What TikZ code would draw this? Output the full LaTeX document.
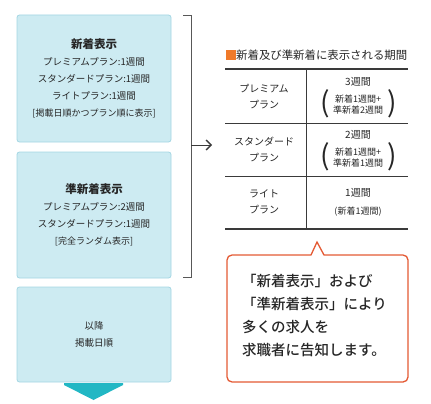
\documentclass[tikz,border=0pt]{standalone}
\usepackage{fontspec}
\setmainfont{Noto Sans CJK JP}
\newfontfamily\jpmed{Noto Sans CJK JP Medium}
\usetikzlibrary{arrows.meta}
\definecolor{boxfill}{HTML}{CDEBF2}
\definecolor{boxline}{HTML}{A3D6E2}
\definecolor{tealarrow}{HTML}{22B7C4}
\definecolor{txt}{HTML}{262626}
\definecolor{rule}{HTML}{3A3A3A}
\definecolor{orangesq}{HTML}{F07A2A}
\definecolor{callout}{HTML}{E45A34}
\begin{document}
\begin{tikzpicture}[x=1pt,y=-1pt,
  bluebox/.style={draw=boxline, fill=boxfill, line width=0.8pt, rounded corners=2.5pt,
    minimum width=154pt, align=center, text=txt, inner sep=0pt,
    font=\fontsize{9.5}{17}\selectfont},
  cell/.style={align=center, text=txt, inner sep=0pt, font=\fontsize{10}{16}\selectfont},
  subcell/.style={align=center, text=txt, inner sep=0pt, font=\fontsize{9}{11}\selectfont},
  paren/.style={text=txt, inner sep=0pt, font=\fontsize{28}{28}\selectfont},
  tablerule/.style={draw=rule, line width=1pt},
  bracket/.style={draw=rule!85, line width=0.8pt},
]
\useasboundingbox (0,0) rectangle (431,404);

% left boxes
\node[bluebox, minimum height=127pt] (b1) at (94,78.5)
  {{\fontsize{11.5}{17}\selectfont\bfseries 新着表示}\\
   プレミアムプラン:1週間\\
   スタンダードプラン:1週間\\
   ライトプラン:1週間\\
   {\fontsize{9}{17}\selectfont [掲載日順かつプラン順に表示]}};
\node[bluebox, minimum height=126pt] (b2) at (94,215)
  {{\fontsize{11.5}{17}\selectfont\bfseries 準新着表示}\\
   プレミアムプラン:2週間\\
   スタンダードプラン:1週間\\
   {\fontsize{9}{17}\selectfont [完全ランダム表示]}};
\node[bluebox, minimum height=95pt] (b3) at (94,334.5)
  {以降\\掲載日順};

% down arrow
\fill[tealarrow] (64,383) -- (123,383) -- (123,385) -- (93.5,400) -- (64,385) -- cycle;

% bracket
\coordinate (bt) at (183,15);
\coordinate (btr) at (191,15);
\coordinate (bbr) at (191,277);
\coordinate (bb) at (183,277);
\coordinate (bm) at (191,145);
\coordinate (bend) at (212,145);
\draw[bracket] (bt) -- (btr) -- (bbr) -- (bb);
\draw[bracket, -{Straight Barb[length=5pt,width=10pt,line width=1.3pt]}, draw=rule] (bm) -- (bend);

% table title
\fill[orangesq] (226,50) rectangle (236,60);
\node[anchor=west, text=txt, inner sep=0pt, font=\fontsize{11.4}{11}\selectfont] (title) at (236,55.5) {新着及び準新着に表示される期間};

% table rules
\coordinate (r0l) at (225,69);   \coordinate (r0r) at (408,69);
\coordinate (r1l) at (225,123);  \coordinate (r1r) at (408,123);
\coordinate (r2l) at (225,176);  \coordinate (r2r) at (408,176);
\coordinate (r3l) at (225,229);  \coordinate (r3r) at (408,229);
\coordinate (vt) at (306,69);    \coordinate (vb) at (306,229);
\draw[tablerule, line width=1.2pt] (r0l) -- (r0r);
\draw[tablerule] (r1l) -- (r1r);
\draw[tablerule] (r2l) -- (r2r);
\draw[tablerule, line width=1.2pt] (r3l) -- (r3r);
\draw[draw=rule, line width=0.8pt] (vt) -- (vb);

% row 1
\node[cell] (c11) at (264,97) {プレミアム\\プラン};
\node[cell] (c12) at (358,82) {3週間};
\node[subcell] (c12s) at (358,105) {新着1週間+\\準新着2週間};
\node[paren] (p1l) at (325,104) {(};
\node[paren] (p1r) at (392,104) {)};
% row 2
\node[cell] (c21) at (264,149) {スタンダード\\プラン};
\node[cell] (c22) at (358,135) {2週間};
\node[subcell] (c22s) at (358,157.5) {新着1週間+\\準新着1週間};
\node[paren] (p2l) at (325,157) {(};
\node[paren] (p2r) at (392,157) {)};
% row 3
\node[cell] (c31) at (264,201.5) {ライト\\プラン};
\node[cell] (c32) at (358,193) {1週間};
\node[subcell] (c32s) at (358,212) {(新着1週間)};

% callout
\draw[callout, fill=white, line width=1.3pt]
  (317,242) -- (324,255) [rounded corners=5pt] -- (408,255) -- (408,382) -- (227,382) -- (227,255) [sharp corners] -- (311,255) -- cycle;
\node[anchor=north west, align=left, text=txt, inner sep=0pt, font=\fontsize{14.5}{23}\selectfont\jpmed] (ctext) at (242,274)
  {「新着表示」および\\「準新着表示」により\\多くの求人を\\求職者に告知します。};
\end{tikzpicture}
\end{document}
